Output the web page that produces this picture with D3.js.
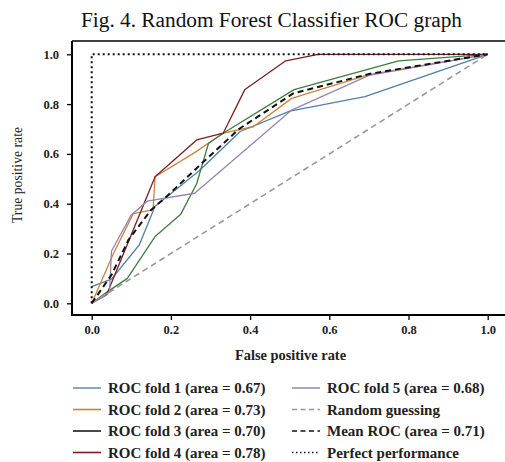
<!DOCTYPE html>
<html><head><meta charset="utf-8">
<script src="https://cdn.jsdelivr.net/npm/d3@7"></script>
<style>
html,body{margin:0;padding:0;background:#fff;}
svg{display:block;font-family:"Liberation Serif","DejaVu Serif",serif;}
</style></head>
<body>
<svg id="c" width="505" height="462"></svg>
<script>
const title = "Fig. 4. Random Forest Classifier ROC graph";
const xLabel = "False positive rate";
const yLabel = "True positive rate";
const ticks = [0.0, 0.2, 0.4, 0.6, 0.8, 1.0];

const fold1 = [[0,0.067],[0.05,0.097],[0.12,0.234],[0.16,0.39],[0.27,0.53],[0.375,0.69],[0.50,0.772],[0.69,0.83],[1,1]];
const fold2 = [[0,0],[0.055,0.20],[0.105,0.36],[0.155,0.375],[0.16,0.508],[0.257,0.602],[0.332,0.683],[0.408,0.709],[0.505,0.823],[0.70,0.918],[1,1]];
const fold3 = [[0,0],[0.034,0.04],[0.09,0.10],[0.16,0.268],[0.225,0.358],[0.265,0.48],[0.295,0.643],[0.332,0.683],[0.511,0.858],[0.775,0.974],[1,1]];
const fold4 = [[0,0],[0.038,0.035],[0.16,0.508],[0.265,0.656],[0.332,0.683],[0.387,0.859],[0.49,0.974],[0.572,1.0],[1,1]];
const fold5 = [[0,0],[0.045,0.045],[0.05,0.21],[0.10,0.355],[0.14,0.41],[0.26,0.442],[0.505,0.776],[0.70,0.915],[1,1]];
const meanRoc = [[0,0],[0.05,0.114],[0.093,0.255],[0.15,0.375],[0.19,0.43],[0.28,0.565],[0.372,0.70],[0.509,0.843],[0.703,0.922],[1,1]];
const randomGuess = [[0,0],[1,1]];
const perfect = [[0,0],[0,1],[1,1]];

const seriesNames = ["ROC fold 1 (area = 0.67)","ROC fold 2 (area = 0.73)","ROC fold 3 (area = 0.70)","ROC fold 4 (area = 0.78)","ROC fold 5 (area = 0.68)","Random guessing","Mean ROC (area = 0.71)","Perfect performance"];

const svg = d3.select("#c");
const x = d3.scaleLinear().domain([0,1]).range([91.7,487.7]);
const y = d3.scaleLinear().domain([0,1]).range([303.3,54.3]);
const line = d3.line().x(d=>x(d[0])).y(d=>y(d[1]));

const styles = [
  {data:fold1, color:"#4f7fab", w:1.3, dash:null, legColor:"#6e93b6"},
  {data:fold2, color:"#c8843d", w:1.3, dash:null, legColor:"#c8843d"},
  {data:fold3, color:"#3e7d3e", w:1.3, dash:null, legColor:"#1a1a1a"},
  {data:fold4, color:"#7a1f1f", w:1.3, dash:null, legColor:"#7a1f1f"},
  {data:fold5, color:"#9484b4", w:1.3, dash:null, legColor:"#9a8bb8"},
  {data:randomGuess, color:"#999", w:1.6, dash:"6,4", legColor:"#999"},
  {data:meanRoc, color:"#111", w:2, dash:"6,4", legColor:"#111"},
  {data:perfect, color:"#111", w:2, dash:"2,3", legColor:"#111"}
];

// frame
const g = svg.append("g");
g.append("line").attr("x1",72).attr("x2",520).attr("y1",41).attr("y2",41).attr("stroke","#000").attr("stroke-width",1.6);
g.append("line").attr("x1",72).attr("x2",72).attr("y1",41).attr("y2",315).attr("stroke","#000").attr("stroke-width",2);
g.append("line").attr("x1",71).attr("x2",520).attr("y1",315).attr("y2",315).attr("stroke","#000").attr("stroke-width",2);

// axes
const xAxis = d3.axisBottom(x).tickValues(ticks).tickFormat(d3.format(".1f")).tickSize(5).tickPadding(5);
const xa = svg.append("g").attr("transform","translate(0,315)").call(xAxis);
xa.select(".domain").remove();
const yAxis = d3.axisLeft(y).tickValues(ticks).tickFormat(d3.format(".1f")).tickSize(5).tickPadding(8);
const ya = svg.append("g").attr("transform","translate(72,0)").call(yAxis);
ya.select(".domain").remove();
svg.selectAll(".tick line").attr("stroke","#000").attr("stroke-width",1.3);
svg.selectAll(".tick text").attr("font-family","Liberation Serif").attr("font-size",12.5).attr("font-weight","bold").attr("fill","#222");

// lines
styles.forEach(s=>{
  svg.append("path").attr("d",line(s.data)).attr("fill","none").attr("stroke",s.color)
    .attr("stroke-width",s.w).attr("stroke-dasharray",s.dash).attr("stroke-linejoin","round");
});

// title & labels
svg.append("text").attr("x",271.5).attr("y",27).attr("text-anchor","middle").attr("font-size",21.3).attr("fill","#111").text(title);
svg.append("text").attr("x",290.5).attr("y",360).attr("text-anchor","middle").attr("font-size",14.4).attr("font-weight","bold").attr("fill","#222").text(xLabel);
svg.append("text").attr("transform","translate(22,175) rotate(-90)").attr("text-anchor","middle").attr("font-size",13.7).attr("fill","#222").text(yLabel);

// legend
const rows = [391,412.5,434,455.5];
seriesNames.forEach((name,i)=>{
  const col = i<4?0:1, r = i%4;
  const lx = col===0?73:292, ty = rows[r];
  const s = styles[i];
  svg.append("line").attr("x1",lx).attr("x2",lx+28).attr("y1",ty-3).attr("y2",ty-3)
    .attr("stroke",s.legColor).attr("stroke-width",i>=5?1.3:1.6).attr("stroke-dasharray",s.dash?(i===7?"1.5,2.5":"5,3.5"):null);
  svg.append("text").attr("x",lx+35).attr("y",ty+2).attr("font-size",15).attr("font-weight","bold").attr("fill","#222").text(name);
});
</script>
</body></html>
